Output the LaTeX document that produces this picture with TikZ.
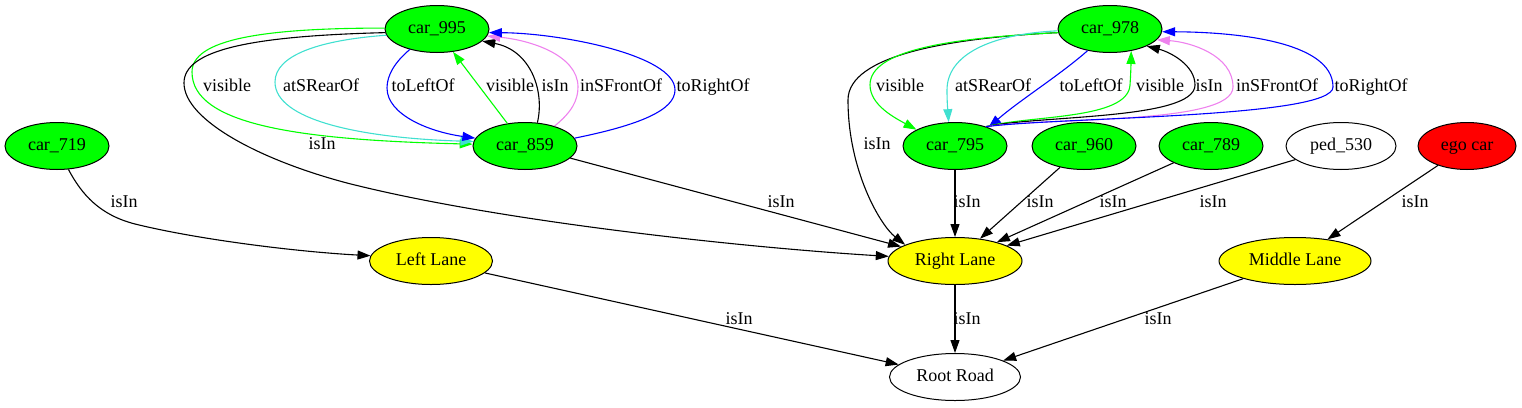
\documentclass[tikz,border=0pt]{standalone}
\usepackage{fontspec}
\setmainfont{Liberation Serif}
\usetikzlibrary{arrows.meta,shapes.geometric}
\definecolor{gvgreen}{HTML}{00FF00}
\definecolor{gvturq}{HTML}{40E0D0}
\definecolor{gvviolet}{HTML}{EE82EE}
\definecolor{gvblue}{HTML}{0000FF}
\definecolor{gvred}{HTML}{FF0000}
\definecolor{gvyellow}{HTML}{FFFF00}
\begin{document}
\begin{tikzpicture}[x=1pt,y=-1pt,
  gnode/.style={ellipse, draw=black, line width=1pt, inner sep=0pt, minimum height=47pt, text height=13pt, text depth=4pt, font=\fontsize{18}{22}\selectfont},
  carnode/.style={gnode, fill=gvgreen, minimum width=104pt},
  lanenode/.style={gnode, fill=gvyellow},
  lbl/.style={font=\fontsize{18}{22}\selectfont, inner sep=0pt, text height=13pt, text depth=4pt},
  edge/.style={line width=1.1pt, -{Triangle[length=13pt,width=9pt]}}]
\useasboundingbox (0,0) rectangle (1522,407);
% nodes
\node[carnode] (car995) at (437,29) {car\_995};
\node[carnode] (car978) at (1110,29) {car\_978};
\node[carnode] (car719) at (57,146) {car\_719};
\node[carnode] (car859) at (525,146) {car\_859};
\node[carnode] (car795) at (955,146) {car\_795};
\node[carnode] (car960) at (1084,146) {car\_960};
\node[carnode] (car789) at (1211,146) {car\_789};
\node[gnode, minimum width=110pt] (ped530) at (1341,146) {ped\_530};
\node[gnode, fill=gvred, minimum width=98pt] (ego) at (1467,146) {ego car};
\node[lanenode, minimum width=123pt] (leftlane) at (431,261) {Left Lane};
\node[lanenode, minimum width=134pt] (rightlane) at (955,261) {Right Lane};
\node[lanenode, minimum width=152pt] (middlelane) at (1295,261) {Middle Lane};
\node[gnode, minimum width=131pt] (rootroad) at (955,377) {Root Road};
% top-left loop
\draw[edge, gvgreen] (car995.179) .. controls (260,28) and (192,40) .. (192,72) .. controls (192,125) and (300,140) .. (car859.178);
\draw[edge] (car995.184) .. controls (250,36) and (184,50) .. (184,83) .. controls (184,120) and (260,160) .. (347,183) .. controls (500,222) and (750,248) .. (rightlane.176);
\draw[edge, gvturq] (car995.187) .. controls (320,40) and (275,55) .. (275,82) .. controls (275,120) and (360,138) .. (car859.175);
\draw[edge, gvblue] (car995.217) .. controls (395,62) and (387,75) .. (387,88) .. controls (387,115) and (430,132) .. (car859.171);
\draw[edge, gvgreen] (car859.128) -- (car995.305);
\draw[edge] (car859.62) .. controls (545,90) and (530,50) .. (car995.345);
\draw[edge, gvviolet] (car859.34) .. controls (572,112) and (578,100) .. (578,87) .. controls (578,55) and (530,40) .. (car995.352);
\draw[edge, gvblue] (car859.9) .. controls (640,125) and (675,110) .. (675,90) .. controls (675,55) and (560,33) .. (car995.356);
% top-right loop
\draw[edge] (car978.184) .. controls (950,38) and (848,55) .. (848,100) .. controls (848,170) and (880,225) .. (rightlane.162);
\draw[edge, gvgreen] (car978.184) .. controls (950,38) and (870,50) .. (870,85) .. controls (870,105) and (895,118) .. (car795.157);
\draw[edge, gvturq] (car978.182) .. controls (990,34) and (947,55) .. (947,90) .. controls (947,105) and (948,112) .. (car795.105);
\draw[edge, gvblue] (car978.224) .. controls (1060,75) and (1020,100) .. (car795.29);
\draw[edge, gvgreen] (car795.32) .. controls (1030,115) and (1128,120) .. (1130,85) .. controls (1131,70) and (1131,62) .. (car978.314);
\draw[edge] (car795.32) .. controls (1040,115) and (1195,120) .. (1195,85) .. controls (1195,65) and (1170,52) .. (car978.335);
\draw[edge, gvviolet] (car795.32) .. controls (1050,117) and (1233,125) .. (1233,87) .. controls (1233,55) and (1190,42) .. (car978.347);
\draw[edge, gvblue] (car795.32) .. controls (1060,117) and (1333,118) .. (1333,87) .. controls (1333,40) and (1230,32) .. (car978.357);
% lower edges
\draw[edge] (car719.296) .. controls (82,195) and (100,215) .. (135,224) .. controls (200,240) and (300,252) .. (leftlane.175);
\draw[edge] (car859) -- (rightlane);
\draw[edge] (car795) -- (rightlane);
\draw[edge] (car960) -- (rightlane);
\draw[edge] (car789) -- (rightlane);
\draw[edge] (ped530) -- (rightlane);
\draw[edge] (ego) -- (middlelane);
\draw[edge] (leftlane) -- (rootroad);
\draw[edge] (rightlane) -- (rootroad);
\draw[edge] (middlelane) -- (rootroad);
% labels
\node[lbl] (la1) at (227,87) {visible};
\node[lbl] (la2) at (321,87) {atSRearOf};
\node[lbl] (la3) at (423,87) {toLeftOf};
\node[lbl] (la4) at (510,87) {visible};
\node[lbl] (la5) at (555,87) {isIn};
\node[lbl] (la6) at (621,87) {inSFrontOf};
\node[lbl] (la7) at (713,87) {toRightOf};
\node[lbl] (la8) at (322,145) {isIn};
\node[lbl] (lb1) at (900,87) {visible};
\node[lbl] (lb2) at (993,87) {atSRearOf};
\node[lbl] (lb3) at (1091,87) {toLeftOf};
\node[lbl] (lb4) at (1160,87) {visible};
\node[lbl] (lb5) at (1209,87) {isIn};
\node[lbl] (lb6) at (1277,87) {inSFrontOf};
\node[lbl] (lb7) at (1371,87) {toRightOf};
\node[lbl] (lb8) at (877,145) {isIn};
\node[lbl] (lc1) at (124,203) {isIn};
\node[lbl] (lc2) at (781,203) {isIn};
\node[lbl] (lc3) at (967,203) {isIn};
\node[lbl] (lc4) at (1040,203) {isIn};
\node[lbl] (lc5) at (1113,203) {isIn};
\node[lbl] (lc6) at (1213,203) {isIn};
\node[lbl] (lc7) at (1415,203) {isIn};
\node[lbl] (ld1) at (739,320) {isIn};
\node[lbl] (ld2) at (967,320) {isIn};
\node[lbl] (ld3) at (1158,320) {isIn};
\end{tikzpicture}
\end{document}
